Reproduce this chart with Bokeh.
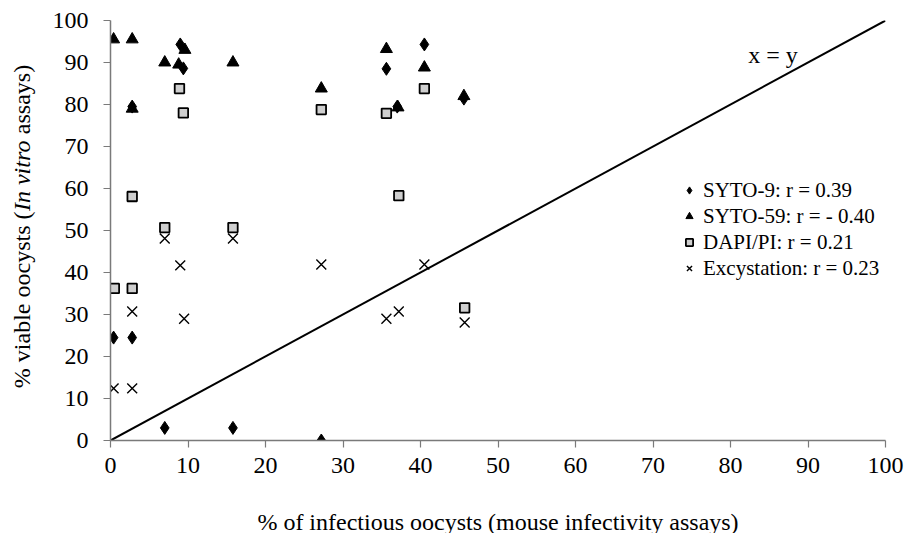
import math
from bokeh.plotting import figure
from bokeh.layouts import row, column
from bokeh.models import Range1d, Label, Legend, LegendItem, FixedTicker
from bokeh.embed import file_html
from bokeh.resources import INLINE

# ---- data ----
syto9_x = [0.4, 2.8, 2.8, 7.0, 9.0, 9.4, 15.8, 27.2, 35.6, 37.0, 40.5, 45.6]
syto9_y = [24.5, 24.5, 79.5, 3.0, 94.3, 88.6, 3.0, 0.0, 88.5, 79.5, 94.3, 81.4]

syto59_x = [0.4, 2.8, 2.8, 7.0, 9.6, 8.8, 15.8, 27.2, 35.6, 37.1, 40.5, 45.6]
syto59_y = [95.5, 95.5, 79.0, 90.0, 93.0, 89.5, 90.0, 83.8, 93.2, 79.3, 88.8, 82.0]

dapi_x = [0.5, 2.8, 2.8, 7.0, 8.9, 9.4, 15.8, 27.2, 35.6, 37.2, 40.5, 45.7]
dapi_y = [36.2, 36.2, 58.1, 50.7, 83.8, 78.0, 50.7, 78.8, 77.9, 58.3, 83.8, 31.6]

excyst_x = [0.4, 2.8, 2.8, 7.0, 9.0, 9.5, 15.8, 27.2, 35.6, 37.2, 40.5, 45.7]
excyst_y = [12.4, 12.4, 30.7, 48.1, 41.7, 29.0, 48.1, 41.9, 29.0, 30.7, 41.9, 28.1]

diag = [0, 100]

series_labels = ["SYTO-9: r = 0.39", "SYTO-59: r = - 0.40",
                 "DAPI/PI: r = 0.21", "Excystation: r = 0.23"]
x_ticks = [0, 10, 20, 30, 40, 50, 60, 70, 80, 90, 100]
y_ticks = [0, 10, 20, 30, 40, 50, 60, 70, 80, 90, 100]
x_title = "% of infectious oocysts (mouse infectivity assays)"
y_title_parts = ["% viable oocysts (", "In vitro", "assays)"]
y_title_styles = ["normal", "italic", "normal"]
diag_label = "x = y"

FONT = "Liberation Serif"
W, H = 908, 533
LAB_W = 44          # left strip holding the y title
BOT_H = 33          # bottom strip holding the x title
TOP_H = H - BOT_H   # height of the main row
F_TOP, F_BOT, F_LEFT, F_RIGHT = 20, 440, 110, 885   # plot frame in page pixels


def blank(fig):
    fig.outline_line_color = None
    fig.grid.visible = False
    fig.background_fill_color = "white"
    fig.border_fill_color = "white"


p = figure(width=W - LAB_W, height=TOP_H, x_range=Range1d(0, 100), y_range=Range1d(0, 100),
           output_backend="svg", toolbar_location=None,
           min_border_left=F_LEFT - LAB_W, min_border_right=W - F_RIGHT,
           min_border_top=F_TOP, min_border_bottom=TOP_H - F_BOT)
blank(p)

for ax in (p.xaxis[0], p.yaxis[0]):
    ax.axis_line_color = "#7a7a7a"
    ax.axis_line_width = 1.5
    ax.major_tick_line_color = "#7a7a7a"
    ax.major_tick_line_width = 1.2
    ax.major_tick_out = 7
    ax.major_tick_in = 0
    ax.minor_tick_line_color = None
    ax.major_label_text_font = FONT
    ax.major_label_text_font_size = "24px"
    ax.major_label_text_color = "black"

p.xaxis[0].ticker = FixedTicker(ticks=x_ticks)
p.yaxis[0].ticker = FixedTicker(ticks=y_ticks)
p.xaxis[0].major_label_standoff = 10
p.yaxis[0].major_label_standoff = 15

# diagonal x = y
p.line(diag, diag, line_color="black", line_width=2)

r1 = p.scatter(syto9_x, syto9_y, marker="diamond", size=13,
               fill_color="black", line_color="black")
r2 = p.scatter(syto59_x, syto59_y, marker="triangle", size=12,
               fill_color="black", line_color="black")
r3 = p.scatter(dapi_x, dapi_y, marker="square", size=9.5,
               fill_color="#cfcfcf", line_color="black", line_width=1.8)
r4 = p.scatter(excyst_x, excyst_y, marker="x", size=14,
               line_color="black", line_width=1.4)

legend = Legend(items=[LegendItem(label=series_labels[i], renderers=[r])
                       for i, r in enumerate([r1, r2, r3, r4])],
                location=(570, 159), orientation="vertical",
                label_text_font=FONT, label_text_font_size="21px",
                label_text_color="black", label_height=26, glyph_height=26,
                glyph_width=18, label_standoff=5, spacing=0, padding=0, margin=0,
                border_line_color=None, background_fill_alpha=0)
p.add_layout(legend, "center")

p.add_layout(Label(x=82.3, y=91.9, text=diag_label, text_font=FONT,
                   text_font_size="24px", text_color="black",
                   text_baseline="alphabetic", text_align="left"))

# ---- left strip: y-axis title with an italic part ----
lab = figure(width=LAB_W, height=TOP_H, x_range=Range1d(0, LAB_W),
             y_range=Range1d(H - F_BOT, H - F_TOP),
             x_axis_type=None, y_axis_type=None, output_backend="svg",
             toolbar_location=None, min_border_left=0, min_border_right=0,
             min_border_top=F_TOP, min_border_bottom=TOP_H - F_BOT)
blank(lab)

fs = 24
em = [7.36, 2.972, 2.888]          # Liberation Serif advance widths (em)
gaps = [0.0, 0.0, 0.25]            # space before each piece (em)
lens = [w * fs for w in em]
total = sum(lens) + sum(gaps) * fs
center_py = 226
start = center_py + total / 2      # page y where the title begins (bottom end)
acc = 0.0
for part, L, g, style in zip(y_title_parts, lens, gaps, y_title_styles):
    acc += g * fs
    c = start - acc - L / 2        # page y of this piece's centre
    lab.add_layout(Label(x=21, y=H - c, text=part, angle=math.pi / 2,
                         text_font=FONT, text_font_size=f"{fs}px",
                         text_font_style=style, text_color="black",
                         text_baseline="middle", text_align="center"))
    acc += L

# ---- bottom strip: x-axis title ----
bot = figure(width=W, height=BOT_H, x_range=Range1d(0, 100), y_range=Range1d(0, BOT_H),
             x_axis_type=None, y_axis_type=None, output_backend="svg",
             toolbar_location=None, min_border_left=F_LEFT, min_border_right=W - F_RIGHT,
             min_border_top=0, min_border_bottom=0)
blank(bot)
bot.add_layout(Label(x=50, y=H - 521, text=x_title, text_font=FONT,
                     text_font_size="24px", text_color="black",
                     text_baseline="alphabetic", text_align="center"))

layout = column(row(lab, p), bot)
open("out.html", "w").write(file_html(layout, INLINE))
